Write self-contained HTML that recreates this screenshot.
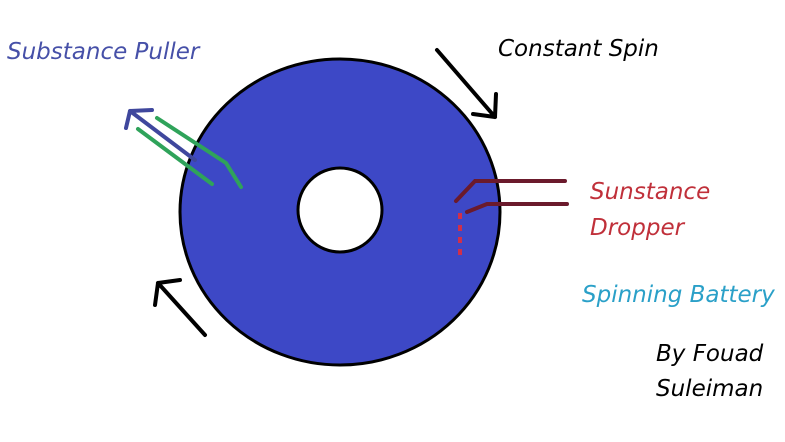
<!DOCTYPE html>
<html><head><style>
body{margin:0;width:785px;height:442px;background:#fff;overflow:hidden;position:relative;font-family:"DejaVu Sans","Liberation Sans",sans-serif;font-style:italic}
.t{position:absolute;font-size:23px;white-space:nowrap}
</style></head><body>
<svg width="785" height="442" style="position:absolute;left:0;top:0">
<ellipse cx="340" cy="212" rx="160" ry="153" fill="#3d48c6" stroke="#000" stroke-width="3"/>
<circle cx="340" cy="210" r="42" fill="#fff" stroke="#000" stroke-width="3"/>
<g stroke="#000" stroke-width="4" fill="none" stroke-linecap="round">
<path d="M437 50 L495 117 M495 117 L473 114 M495 117 L496 94"/>
<path d="M205 335 L158 283 M158 283 L155 305 M158 283 L180 280"/>
</g>
<g stroke="#3f479d" stroke-width="4" fill="none" stroke-linecap="round">
<path d="M130 111 L195 160 M130 111 L152 110 M130 111 L126 128"/>
</g>
<g stroke="#2fa35a" stroke-width="4" fill="none" stroke-linecap="round">
<path d="M157 118 L226 163 L241 187"/>
<path d="M138 129 L212 184"/>
</g>
<g stroke="#6b1a2c" stroke-width="4" fill="none" stroke-linecap="round">
<path d="M456 201 L475 181 L565 181"/>
<path d="M467 212 L487 204 L567 204"/>
</g>
<path d="M460 213 L460 258" stroke="#d0304a" stroke-width="4" stroke-dasharray="6 6"/>
</svg>
<div class="t" style="left:7px;top:39px;color:#4650a8">Substance Puller</div>
<div class="t" style="left:498px;top:36px;color:#000">Constant Spin</div>
<div class="t" style="left:590px;top:179px;color:#c0303a">Sunstance</div>
<div class="t" style="left:590px;top:215px;color:#c0303a">Dropper</div>
<div class="t" style="left:582px;top:282px;color:#2aa0c8">Spinning Battery</div>
<div class="t" style="left:656px;top:341px;color:#000">By Fouad</div>
<div class="t" style="left:656px;top:376px;color:#000">Suleiman</div>
</body></html>
